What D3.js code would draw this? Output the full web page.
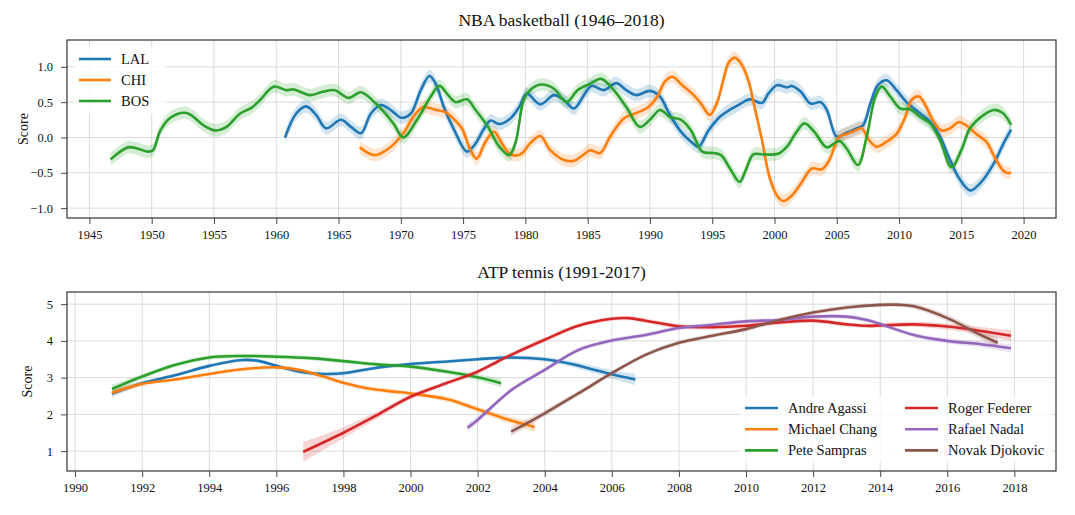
<!DOCTYPE html>
<html>
<head>
<meta charset="utf-8">
<script src="https://cdn.jsdelivr.net/npm/d3@7"></script>
<style>
  body { margin: 0; background: #fff; }
  svg { font-family: "Liberation Serif", "DejaVu Serif", serif; }
</style>
</head>
<body>
<svg id="chart" width="1075" height="515"></svg>
<script>
// ---- NBA data (year, score) ----
const nbaTeams = ["LAL", "CHI", "BOS"];
const nbaColors = ["#1f77b4", "#ff7f0e", "#2ca02c"];

const lal = [[1960.7,0.0],[1961.6,0.34],[1962.4,0.44],[1963.2,0.32],[1964.0,0.13],[1965.2,0.25],[1966.0,0.15],
  [1966.8,0.06],[1967.6,0.34],[1968.4,0.46],[1969.4,0.36],[1970.0,0.28],[1970.8,0.34],[1971.6,0.67],[1972.3,0.87],
  [1972.8,0.76],[1973.5,0.41],[1974.3,0.10],[1975.3,-0.20],[1975.9,-0.11],[1976.7,0.13],[1977.2,0.24],[1977.9,0.19],
  [1978.8,0.27],[1979.5,0.43],[1980.1,0.62],[1981.2,0.47],[1982.3,0.60],[1983.1,0.53],[1983.9,0.41],[1984.7,0.60],
  [1985.3,0.73],[1986.3,0.67],[1987.3,0.77],[1988.1,0.67],[1988.9,0.60],[1990.0,0.66],[1990.8,0.58],[1991.6,0.32],
  [1992.5,0.08],[1993.3,-0.06],[1993.9,-0.13],[1994.7,0.10],[1995.6,0.29],[1996.4,0.39],[1997.2,0.47],[1998.0,0.54],
  [1999.0,0.49],[1999.5,0.62],[2000.2,0.74],[2001.0,0.71],[2001.4,0.73],[2002.1,0.65],[2002.9,0.48],[2003.7,0.50],
  [2004.2,0.39],[2005.0,0.01],[2005.7,0.06],[2006.6,0.13],[2007.1,0.17],[2007.7,0.48],[2008.3,0.74],[2009.0,0.81],
  [2009.8,0.67],[2010.6,0.50],[2011.7,0.34],[2012.5,0.22],[2013.3,0.01],[2014.1,-0.32],[2014.9,-0.60],[2015.7,-0.75],
  [2016.5,-0.65],[2017.6,-0.37],[2018.4,-0.08],[2019.0,0.11]];

const chi = [[1966.7,-0.14],[1967.9,-0.25],[1969.0,-0.16],[1970.2,0.06],[1971.0,0.29],[1971.8,0.43],[1972.8,0.39],
  [1973.6,0.36],[1974.2,0.27],[1974.9,0.13],[1975.6,-0.18],[1976.1,-0.30],[1976.8,-0.06],[1977.5,0.08],[1978.1,-0.08],
  [1978.8,-0.24],[1979.6,-0.24],[1980.4,-0.08],[1981.2,0.02],[1982.0,-0.18],[1983.1,-0.32],[1983.9,-0.33],[1984.7,-0.24],
  [1985.2,-0.18],[1986.0,-0.22],[1986.8,0.01],[1987.9,0.27],[1988.8,0.34],[1989.8,0.42],[1990.6,0.58],[1991.2,0.79],
  [1991.8,0.86],[1992.6,0.74],[1993.4,0.62],[1994.1,0.48],[1994.8,0.32],[1995.4,0.50],[1995.9,0.82],[1996.3,1.05],
  [1996.8,1.13],[1997.3,1.05],[1997.9,0.81],[1998.4,0.43],[1999.0,-0.04],[1999.6,-0.56],[2000.2,-0.82],[2000.7,-0.90],
  [2001.4,-0.82],[2002.2,-0.63],[2003.0,-0.44],[2003.8,-0.45],[2004.4,-0.32],[2005.2,0.01],[2005.8,0.05],[2006.5,0.10],
  [2007.0,0.13],[2007.6,-0.04],[2008.2,-0.13],[2009.0,-0.06],[2009.8,0.05],[2010.5,0.29],[2011.0,0.53],[2011.6,0.58],
  [2012.1,0.46],[2012.8,0.22],[2013.4,0.10],[2014.1,0.13],[2014.8,0.22],[2015.4,0.17],[2016.2,0.05],[2017.0,-0.06],
  [2017.8,-0.32],[2018.5,-0.49],[2019.0,-0.50]];

const bos = [[1946.7,-0.31],[1948.1,-0.14],[1948.9,-0.16],[1949.7,-0.20],[1950.1,-0.18],[1950.7,0.10],[1951.5,0.28],
  [1952.7,0.35],[1953.3,0.30],[1954.1,0.18],[1955.1,0.10],[1956.0,0.15],[1957.1,0.34],[1958.0,0.42],[1958.7,0.53],
  [1959.8,0.72],[1960.8,0.67],[1961.4,0.68],[1962.7,0.60],[1963.8,0.65],[1964.7,0.67],[1965.8,0.56],[1966.8,0.64],
  [1968.0,0.48],[1969.4,0.20],[1970.2,0.0],[1971.3,0.25],[1972.4,0.58],[1973.1,0.73],[1973.8,0.60],[1974.4,0.50],
  [1975.3,0.54],[1976.0,0.39],[1977.0,0.15],[1977.9,-0.13],[1978.7,-0.25],[1979.2,-0.08],[1979.9,0.55],[1980.5,0.69],
  [1981.3,0.75],[1982.3,0.69],[1983.3,0.50],[1984.2,0.67],[1985.2,0.76],[1986.1,0.83],[1987.1,0.67],[1988.1,0.43],
  [1989.2,0.15],[1990.1,0.27],[1990.8,0.39],[1991.6,0.29],[1992.5,0.25],[1993.3,0.10],[1994.2,-0.20],[1995.1,-0.22],
  [1995.7,-0.25],[1996.5,-0.46],[1997.2,-0.63],[1997.7,-0.46],[1998.3,-0.24],[1999.1,-0.24],[2000.3,-0.23],[2001.0,-0.13],
  [2001.7,0.06],[2002.4,0.20],[2003.2,0.08],[2004.2,-0.14],[2005.2,-0.05],[2005.8,-0.16],[2006.7,-0.39],[2007.4,0.01],
  [2008.1,0.58],[2008.6,0.72],[2009.3,0.58],[2010.1,0.41],[2010.9,0.40],[2011.7,0.29],[2012.5,0.20],[2013.3,-0.04],
  [2014.2,-0.42],[2015.0,-0.18],[2015.7,0.13],[2016.8,0.32],[2017.6,0.39],[2018.3,0.35],[2019.0,0.18]];

const nbaSeries = [lal, chi, bos];
const nbaBand = 0.09;
const nbaYTicks = [-1.0, -0.5, 0.0, 0.5, 1.0];
const nbaXTicks = d3.range(1945, 2021, 5);

// ---- ATP data (year, score, band half-width) ----
const atpPlayers = ["Andre Agassi", "Michael Chang", "Pete Sampras", "Roger Federer", "Rafael Nadal", "Novak Djokovic"];
const atpColors = ["#1f77b4", "#ff7f0e", "#2ca02c", "#d62728", "#9467bd", "#8c564b"];

const agassi = [[1991.1,2.57,0.1],[1992.0,2.85,0.06],[1993.0,3.07,0.05],[1994.0,3.32,0.05],[1995.0,3.48,0.05],
  [1995.5,3.45,0.05],[1996.0,3.32,0.05],[1996.7,3.16,0.06],[1997.4,3.10,0.06],[1998.0,3.12,0.06],[1999.0,3.27,0.05],
  [2000.0,3.37,0.05],[2001.1,3.44,0.05],[2002.0,3.50,0.05],[2003.0,3.55,0.06],[2004.0,3.50,0.06],[2004.8,3.37,0.08],
  [2005.5,3.21,0.1],[2006.0,3.09,0.12],[2006.7,2.95,0.15]];
const chang = [[1991.1,2.59,0.1],[1992.0,2.83,0.06],[1993.0,2.95,0.05],[1994.0,3.10,0.05],[1995.0,3.23,0.05],
  [1996.0,3.28,0.05],[1996.7,3.21,0.05],[1997.4,3.03,0.05],[1998.0,2.86,0.06],[1998.7,2.71,0.06],[1999.5,2.62,0.06],
  [2000.0,2.57,0.06],[2001.1,2.41,0.07],[2002.0,2.14,0.08],[2002.9,1.86,0.1],[2003.7,1.66,0.14]];
const sampras = [[1991.1,2.69,0.12],[1992.0,3.03,0.07],[1993.0,3.35,0.06],[1994.0,3.55,0.06],[1995.0,3.59,0.06],
  [1996.0,3.57,0.06],[1997.0,3.53,0.06],[1998.0,3.45,0.06],[1999.0,3.36,0.06],[2000.0,3.30,0.06],[2001.1,3.16,0.07],
  [2002.0,3.01,0.09],[2002.7,2.85,0.12]];
const federer = [[1996.8,0.98,0.27],[1998.0,1.50,0.15],[1999.0,1.98,0.1],[2000.0,2.48,0.07],[2001.1,2.86,0.06],
  [2002.0,3.16,0.06],[2002.6,3.44,0.06],[2003.0,3.62,0.06],[2004.0,4.03,0.06],[2005.0,4.41,0.06],[2006.0,4.60,0.06],
  [2006.5,4.62,0.06],[2007.0,4.55,0.06],[2008.0,4.40,0.06],[2009.0,4.37,0.06],[2010.0,4.41,0.06],[2011.0,4.50,0.06],
  [2012.0,4.55,0.06],[2013.0,4.45,0.06],[2013.6,4.41,0.06],[2014.0,4.42,0.06],[2015.0,4.45,0.07],[2016.0,4.39,0.08],
  [2017.0,4.27,0.11],[2017.9,4.14,0.15]];
const nadal = [[2001.7,1.64,0.12],[2002.0,1.85,0.09],[2003.0,2.66,0.06],[2004.0,3.21,0.06],[2005.0,3.75,0.06],
  [2006.0,4.01,0.06],[2007.0,4.16,0.06],[2008.0,4.35,0.06],[2009.0,4.44,0.06],[2010.0,4.53,0.06],[2011.0,4.57,0.06],
  [2012.0,4.66,0.06],[2013.0,4.66,0.06],[2013.6,4.57,0.06],[2014.0,4.46,0.06],[2015.0,4.16,0.06],[2016.0,4.00,0.07],
  [2017.0,3.91,0.08],[2017.9,3.80,0.11]];
const djokovic = [[2003.0,1.53,0.13],[2004.0,2.03,0.09],[2005.0,2.57,0.07],[2006.0,3.12,0.06],[2007.0,3.62,0.06],
  [2008.0,3.95,0.06],[2009.0,4.14,0.06],[2010.0,4.32,0.06],[2011.0,4.57,0.06],[2012.0,4.77,0.06],[2013.0,4.91,0.06],
  [2014.0,4.98,0.06],[2014.6,4.98,0.06],[2015.0,4.94,0.07],[2016.0,4.62,0.09],[2017.0,4.16,0.12],[2017.5,3.95,0.14]];

const atpSeries = [agassi, chang, sampras, federer, nadal, djokovic];
const atpYTicks = [1, 2, 3, 4, 5];
const atpXTicks = d3.range(1990, 2019, 2);

const svg = d3.select("#chart");
const curve = d3.curveCatmullRom.alpha(0.5);

function drawPanel(opts) {
  const { left, right, top, bottom, xDomain, yDomain, xTicks, yTicks, yFormat, title, labelX } = opts;
  const x = d3.scaleLinear().domain(xDomain).range([left, right]);
  const y = d3.scaleLinear().domain(yDomain).range([bottom, top]);
  const g = svg.append("g");

  // grid
  g.append("g").selectAll("line").data(xTicks).join("line")
    .attr("x1", d => x(d)).attr("x2", d => x(d))
    .attr("y1", top).attr("y2", bottom)
    .attr("stroke", "#d6d6d6").attr("stroke-width", 0.9);
  g.append("g").selectAll("line").data(yTicks).join("line")
    .attr("x1", left).attr("x2", right)
    .attr("y1", d => y(d)).attr("y2", d => y(d))
    .attr("stroke", "#d6d6d6").attr("stroke-width", 0.9);

  // axes
  const xAxis = g.append("g").attr("transform", `translate(0,${bottom})`)
    .call(d3.axisBottom(x).tickValues(xTicks).tickFormat(d3.format("d")).tickSize(6).tickPadding(6));
  const yAxis = g.append("g").attr("transform", `translate(${left},0)`)
    .call(d3.axisLeft(y).tickValues(yTicks).tickFormat(yFormat).tickSize(6).tickPadding(8));
  [xAxis, yAxis].forEach(a => {
    a.select(".domain").remove();
    a.selectAll("line").attr("stroke", "#333").attr("stroke-width", 0.9);
    a.selectAll("text").attr("font-family", "Liberation Serif").attr("font-size", 12.5).attr("fill", "#111");
  });

  // title
  g.append("text").attr("x", (left + right) / 2).attr("y", top - 14)
    .attr("text-anchor", "middle").attr("font-size", 17.5).attr("fill", "#111").text(title);

  // y label
  g.append("text").attr("transform", `translate(${labelX},${(top + bottom) / 2}) rotate(-90)`)
    .attr("text-anchor", "middle").attr("dy", "0.35em").attr("font-size", 14).attr("fill", "#111").text("Score");

  const plot = g.append("g");
  return { g, plot, x, y, frame: () => g.append("rect")
    .attr("x", left).attr("y", top).attr("width", right - left).attr("height", bottom - top)
    .attr("fill", "none").attr("stroke", "#333").attr("stroke-width", 1.2) };
}

// ---- Top panel ----
const top1 = drawPanel({
  left: 67, right: 1056, top: 40, bottom: 218,
  xDomain: [1943.2, 2022.6], yDomain: [-1.14, 1.38],
  xTicks: nbaXTicks, yTicks: nbaYTicks, yFormat: d3.format(".1f"),
  title: "NBA basketball (1946\u20132018)", labelX: 23
});

nbaSeries.forEach((s, i) => {
  const area = d3.area().curve(curve)
    .x(d => top1.x(d[0])).y0(d => top1.y(d[1] - nbaBand)).y1(d => top1.y(d[1] + nbaBand));
  top1.plot.append("path").datum(s).attr("d", area)
    .attr("fill", nbaColors[i]).attr("fill-opacity", 0.2);
});
nbaSeries.forEach((s, i) => {
  const line = d3.line().curve(curve).x(d => top1.x(d[0])).y(d => top1.y(d[1]));
  top1.plot.append("path").datum(s).attr("d", line)
    .attr("fill", "none").attr("stroke", nbaColors[i]).attr("stroke-width", 2.6);
});

// legend (top)
const leg1 = top1.g.append("g").attr("transform", "translate(74,46)");
leg1.append("rect").attr("width", 92).attr("height", 68).attr("rx", 3)
  .attr("fill", "#fff").attr("fill-opacity", 0.8);
nbaTeams.forEach((t, i) => {
  const row = leg1.append("g").attr("transform", `translate(0,${13 + i * 21})`);
  row.append("line").attr("x1", 5).attr("x2", 37).attr("stroke", nbaColors[i]).attr("stroke-width", 2.6);
  row.append("text").attr("x", 47).attr("dy", "0.35em").attr("font-size", 14.5).attr("fill", "#111").text(t);
});
top1.frame();

// ---- Bottom panel ----
const bot = drawPanel({
  left: 67, right: 1056, top: 292, bottom: 471,
  xDomain: [1989.76, 2019.24], yDomain: [0.46, 5.33],
  xTicks: atpXTicks, yTicks: atpYTicks, yFormat: d3.format("d"),
  title: "ATP tennis (1991-2017)", labelX: 27
});

atpSeries.forEach((s, i) => {
  const area = d3.area().curve(curve)
    .x(d => bot.x(d[0])).y0(d => bot.y(d[1] - d[2])).y1(d => bot.y(d[1] + d[2]));
  bot.plot.append("path").datum(s).attr("d", area)
    .attr("fill", atpColors[i]).attr("fill-opacity", 0.2);
});
atpSeries.forEach((s, i) => {
  const line = d3.line().curve(curve).x(d => bot.x(d[0])).y(d => bot.y(d[1]));
  bot.plot.append("path").datum(s).attr("d", line)
    .attr("fill", "none").attr("stroke", atpColors[i]).attr("stroke-width", 2.6);
});

// legend (bottom, two columns)
const leg2 = bot.g.append("g").attr("transform", "translate(740,396)");
leg2.append("rect").attr("width", 312).attr("height", 66).attr("rx", 3)
  .attr("fill", "#fff").attr("fill-opacity", 0.8);
atpPlayers.forEach((p, i) => {
  const col = Math.floor(i / 3), r = i % 3;
  const row = leg2.append("g").attr("transform", `translate(${col * 160},${12 + r * 21.2})`);
  row.append("line").attr("x1", 5).attr("x2", 38).attr("stroke", atpColors[i]).attr("stroke-width", 2.6);
  row.append("text").attr("x", 48).attr("dy", "0.35em").attr("font-size", 14.5).attr("fill", "#111").text(p);
});
bot.frame();
</script>
</body>
</html>
